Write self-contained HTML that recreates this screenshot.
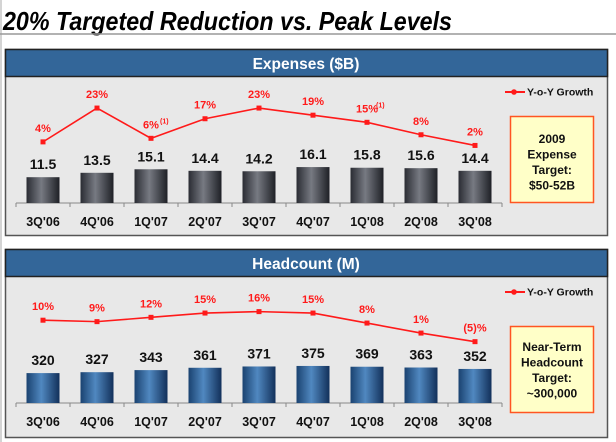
<!DOCTYPE html>
<html><head><meta charset="utf-8"><style>
body{margin:0;background:#fff;}
svg{display:block;font-family:"Liberation Sans",Arial,sans-serif;}
</style></head><body>
<svg width="616" height="442" viewBox="0 0 616 442">
<defs>
<linearGradient id="gGray" x1="0" x2="1" y1="0" y2="0">
<stop offset="0" stop-color="#2a2c33"/><stop offset="0.45" stop-color="#777a82"/><stop offset="1" stop-color="#1e2026"/></linearGradient>
<linearGradient id="gBlue" x1="0" x2="1" y1="0" y2="0">
<stop offset="0" stop-color="#1a4270"/><stop offset="0.45" stop-color="#5088c0"/><stop offset="1" stop-color="#12305a"/></linearGradient>
</defs>
<line x1="1" y1="0" x2="1" y2="442" stroke="#aaa" stroke-width="1"/>
<text x="3" y="30" font-size="26" font-weight="bold" font-style="italic" fill="#000" textLength="449" lengthAdjust="spacingAndGlyphs">20% Targeted Reduction vs. Peak Levels</text>
<line x1="0" y1="34" x2="616" y2="34" stroke="#999" stroke-width="1.5"/>
<g id="p1"></g>
<g id="p2"></g>
</svg>
<script>
const categories=["3Q'06","4Q'06","1Q'07","2Q'07","3Q'07","4Q'07","1Q'08","2Q'08","3Q'08"];
const expenseValues=[11.5,13.5,15.1,14.4,14.2,16.1,15.8,15.6,14.4];
const expenseGrowth=[4,23,6,17,23,19,15,8,2];
const expenseGrowthLabels=["4%","23%","6%","17%","23%","19%","15%","8%","2%"];
const expenseNotes=[false,false,true,false,false,false,true,false,false];
const headValues=[320,327,343,361,371,375,369,363,352];
const headGrowth=[10,9,12,15,16,15,8,1,-5];
const headGrowthLabels=["10%","9%","12%","15%","16%","15%","8%","1%","(5)%"];
const headNotes=[false,false,false,false,false,false,false,false,false];

const NS="http://www.w3.org/2000/svg";
function mk(tag,attrs,parent,text){const e=document.createElementNS(NS,tag);for(const k in attrs)e.setAttribute(k,attrs[k]);if(text!==undefined)e.textContent=text;parent.appendChild(e);return e;}

function panel(g,cfg){
  const top=cfg.top;
  const r=mk('rect',{x:5.5,y:top+0.5,width:602,height:cfg.h,fill:'#e8e8e8',stroke:'#555',"stroke-width":1.5},g);
  
  
  const hd=mk('rect',{x:5.5,y:top+0.5,width:602,height:27,fill:'#336699',stroke:'#222',"stroke-width":1.5},g);
  
  
  const ht=mk('text',{x:306,y:top+20,"text-anchor":"middle","font-size":15.5,"font-weight":"bold",fill:'#fff'},g,cfg.title);
  
  
  const base=top+154;
  const xOf=i=>43+54*i;
  const ax=mk('line',{x1:16,y1:base,x2:502,y2:base,stroke:'#888',"stroke-width":1},g);
  
  
  for(let i=0;i<=categories.length;i++){
    const t=mk('line',{x1:16+54*i,y1:base,x2:16+54*i,y2:base+4,stroke:'#888'},g);
    
    
  }
  const pts=[];
  categories.forEach((c,i)=>{
    const h=cfg.barH(cfg.vals[i]);
    const x=xOf(i);
    const b=mk('rect',{x:x-16.5,y:base-h,width:33,height:h,fill:cfg.grad},g);
    
    
    const vl=mk('text',{x:x,y:base-h-8,"text-anchor":"middle","font-size":14,"font-weight":"bold",fill:'#111'},g,cfg.fmt(cfg.vals[i]));
    
    
    const cl=mk('text',{x:x,y:base+23,"text-anchor":"middle","font-size":12.5,"font-weight":"bold",fill:'#111'},g,c);
    
    
    pts.push([x,cfg.lineY(cfg.growth[i])]);
  });
  const pl=mk('polyline',{points:pts.map(p=>p.join(',')).join(' '),fill:'none',stroke:'#ff1a1a',"stroke-width":1.6},g);
  
  
  pts.forEach((p,i)=>{
    const m=mk('rect',{x:p[0]-2.5,y:p[1]-2.5,width:5,height:5,fill:'#ff1a1a'},g);
    
    
    const t=mk('text',{x:p[0],y:p[1]-10,"text-anchor":"middle","font-size":11,"font-weight":"bold",fill:'#ff1a1a'},g,cfg.glabels[i]);
    
    
    if(cfg.notes[i]){
      const n=mk('text',{x:p[0]+9,y:p[1]-15,"font-size":7,"font-weight":"bold",fill:'#ff1a1a'},g,'(1)');
      
      
    }
  });
  const ly=top+43;
  const ll=mk('line',{x1:505,y1:ly,x2:525,y2:ly,stroke:'#ff1a1a',"stroke-width":2},g);
  
  
  const lc=mk('circle',{cx:514,cy:ly,r:2.8,fill:'#ff1a1a'},g);
  
  
  const lt=mk('text',{x:527,y:ly+3.5,"font-size":10.5,"font-weight":"bold",fill:'#111'},g,'Y-o-Y Growth');
  
  
  const bx=mk('rect',{x:510.5,y:cfg.boxY+0.5,width:83,height:cfg.boxH,fill:'#ffffc8',stroke:'#ff5522',"stroke-width":1.5},g);
  
  
  cfg.boxLines.forEach((s,i)=>{
    const t=mk('text',{x:552,y:cfg.boxY+cfg.boxPad+i*15.5,"text-anchor":"middle","font-size":12,"font-weight":"bold",fill:'#111'},g,s);
    
    
  });
}
panel(document.getElementById('p1'),{top:49,h:186,title:'Expenses ($B)',vals:expenseValues,growth:expenseGrowth,glabels:expenseGrowthLabels,notes:expenseNotes,
 barH:v=>v*2.2+0.5,lineY:v=>149-1.78*v,grad:'url(#gGray)',fmt:v=>v.toFixed(1),boxY:116,boxH:86,boxPad:27,boxLines:['2009','Expense','Target:','$50-52B']});
panel(document.getElementById('p2'),{top:249,h:188,title:'Headcount (M)',vals:headValues,growth:headGrowth,glabels:headGrowthLabels,notes:headNotes,
 barH:v=>0.13*(v-90),lineY:v=>334.5-1.43*v,grad:'url(#gBlue)',fmt:v=>String(v),boxY:326,boxH:86,boxPad:25,boxLines:['Near-Term','Headcount','Target:','~300,000']});
</script>
</body></html>
